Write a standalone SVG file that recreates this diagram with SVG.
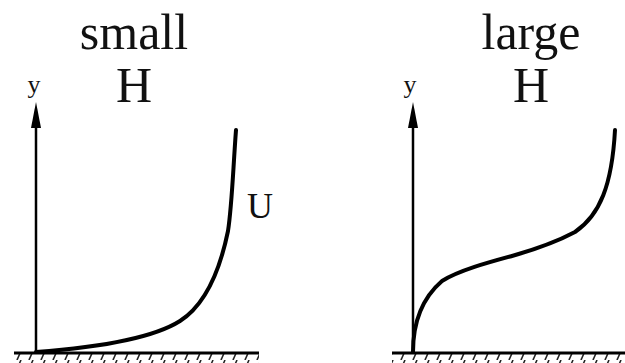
<svg xmlns="http://www.w3.org/2000/svg" width="625" height="363" viewBox="0 0 625 363">
<defs>
<style>
.t{font-family:"Liberation Serif",serif;fill:#111;text-anchor:middle}
.ax{stroke:#000;stroke-width:2.5;fill:none}
.ah{fill:#000}
.cv{stroke:#000;stroke-width:4;fill:none;stroke-linecap:round}
.gr{stroke:#000;stroke-width:3;fill:none}
.ht{stroke:#222;stroke-width:1.6}
</style>
<pattern id="hatch" width="12" height="9" patternUnits="userSpaceOnUse">
<line x1="9" y1="0" x2="5" y2="9" class="ht"/>
</pattern>
</defs>
<rect width="625" height="363" fill="#fff"/>
<g id="left-panel">
<text class="t" x="134" y="49" font-size="50">small</text>
<text class="t" x="134" y="102" font-size="50">H</text>
<text class="t" x="34" y="93" font-size="26">y</text>
<text class="t" x="260" y="218" font-size="36">U</text>
</g>
<g id="right-panel">
<text class="t" x="531" y="49" font-size="50">large</text>
<text class="t" x="531" y="102" font-size="50">H</text>
<text class="t" x="410" y="93" font-size="26">y</text>
</g>
<g id="ground">
<rect x="14" y="354" width="245" height="9" fill="url(#hatch)"/>
<line class="gr" x1="14" y1="353" x2="259" y2="353"/>
<rect x="392" y="354" width="233" height="9" fill="url(#hatch)"/>
<line class="gr" x1="392" y1="353" x2="625" y2="353"/>
</g>
<g id="connectors">
<line class="ax" x1="36" y1="352" x2="36" y2="120"/>
<polygon class="ah" points="36,102 41,128 31,128"/>
<line class="ax" x1="413" y1="352" x2="413" y2="120"/>
<polygon class="ah" points="413,102 418,128 408,128"/>
<path class="cv" d="M36,352 C90,348 150,340 180,321 C205,305 220,270 228,231 C232,205 233,170 236,130"/>
<path class="cv" d="M413,352 C413,325 420,300 442,281 C460,270 490,262 512,256 C540,248 560,240 575,232 C600,215 612,185 615,130"/>
</g>
</svg>
